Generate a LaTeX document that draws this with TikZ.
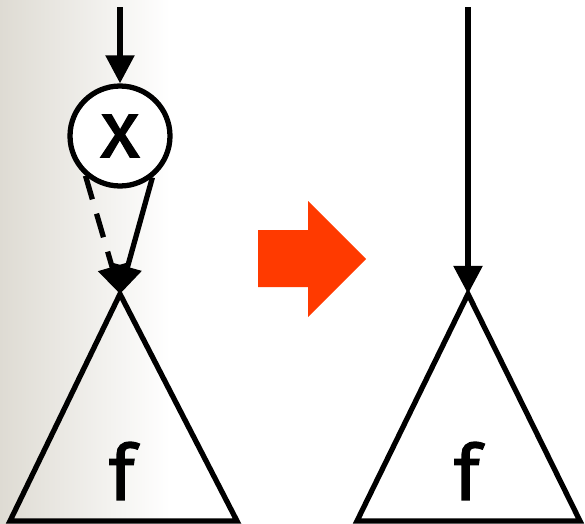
\documentclass[tikz,border=0pt]{standalone}
\usepackage{fontspec}
\usepackage{tikz}
\usetikzlibrary{arrows.meta,positioning}
\newfontfamily\handfont[FakeBold=1.6]{Fira Sans}
\definecolor{ink}{HTML}{000000}
\definecolor{shadeL}{HTML}{DEDBD3}
\definecolor{hot}{HTML}{FF3A00}
\tikzset{
  wire/.style  ={line width=3pt, draw=ink},
  flow/.style  ={wire, -{Triangle[length=16pt,width=16pt]}},
  flowd/.style ={flow, dash pattern=on 14pt off 8.5pt},
  opnode/.style={circle, wire, fill=white, minimum size=2cm, inner sep=0pt,
                 font=\handfont\fontsize{46}{46}\selectfont},
  fun/.style   ={font=\handfont\fontsize{44}{44}\selectfont, inner sep=0pt},
  tri/.style   ={wire, line join=miter},
}
\begin{document}
\begin{tikzpicture}[x=0.02cm,y=-0.02cm]
  \useasboundingbox (0,0) rectangle (585,524);
  % faded strip on the left
  \shade[left color=shadeL, right color=white] (0,0) rectangle (170,524);
  % before
  \coordinate (topL) at (120,7);
  \coordinate (apexL) at (120,294);
  \coordinate (baseLa) at (10,521);
  \coordinate (baseLb) at (237,521);
  \draw[tri] (apexL) -- (baseLa) -- (baseLb) -- cycle;
  \node[fun] (fL) at (122,471) {f};
  \node[opnode] (mul) at (120,136) {x};
  \draw[flow] (topL) -- (mul);
  \draw[flowd] (mul.229) -- (apexL);
  \draw[flow] (mul.-52) -- (apexL);
  % rewrite arrow
  \fill[hot] (258,230) -- (308,230) -- (308,201) -- (366,259) -- (308,317)
        -- (308,287) -- (258,287) -- cycle;
  % after
  \coordinate (topR) at (468,7);
  \coordinate (apexR) at (468,294);
  \coordinate (baseRa) at (357,521);
  \coordinate (baseRb) at (580,521);
  \draw[tri] (apexR) -- (baseRa) -- (baseRb) -- cycle;
  \node[fun] (fR) at (467,471) {f};
  \draw[flow] (topR) -- (apexR);
\end{tikzpicture}
\end{document}
